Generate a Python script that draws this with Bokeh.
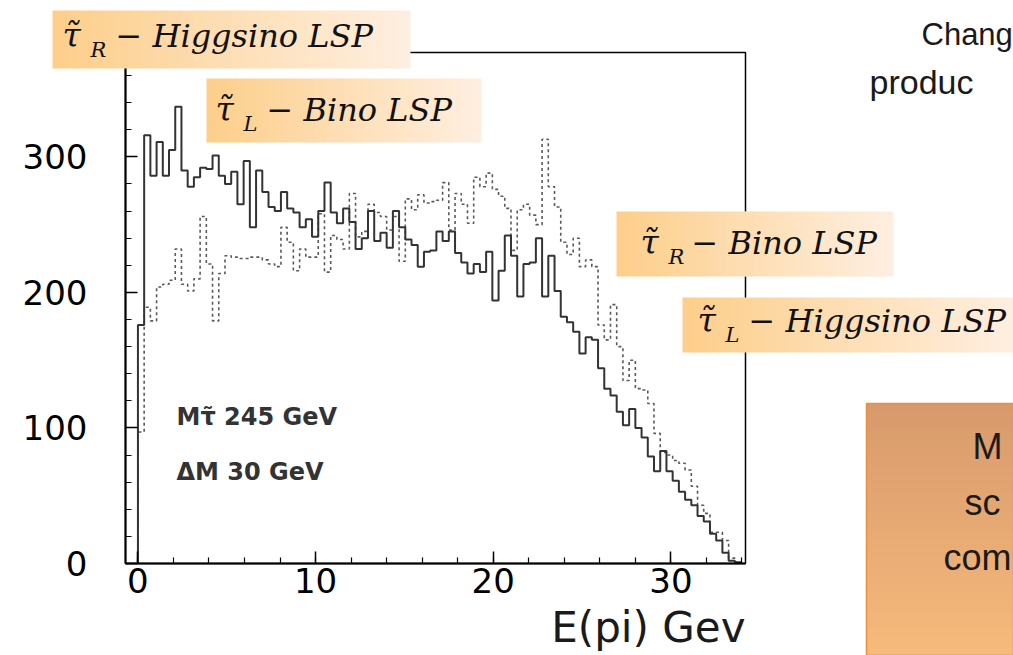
from bokeh.plotting import figure
from bokeh.models import Label, BoxAnnotation, FixedTicker, Range1d
from bokeh.embed import file_html
from bokeh.resources import INLINE

# ---------------- data ----------------
BIN_WIDTH = 0.35  # GeV per histogram bin

# solid histogram (counts per bin, starting at E = 0)
solid_counts = [176, 316, 286, 311, 286, 305, 337, 290, 278, 285,
                292, 291, 301, 286, 280, 289, 265, 297, 248, 290,
                274, 263, 260, 274, 262, 259, 248, 254, 241, 260,
                281, 259, 251, 262, 252, 232, 240, 260, 238, 244,
                233, 260, 248, 239, 235, 219, 230, 231, 245, 238,
                245, 229, 222, 214, 221, 215, 230, 194, 216, 242,
                227, 197, 221, 222, 240, 197, 227, 201, 182, 178,
                171, 155, 167, 165, 144, 129, 124, 112, 102, 114,
                100, 93, 79, 68, 83, 68, 61, 53, 47, 43,
                35, 31, 22, 17, 8, 2, 1]

# dotted histogram
dotted_counts = [97, 189, 179, 204, 206, 209, 232, 206, 201, 210,
                 256, 221, 179, 214, 227, 226, 225, 225, 226, 226,
                 224, 221, 219, 248, 237, 216, 232, 226, 226, 258,
                 215, 242, 239, 232, 273, 241, 245, 265, 259, 256,
                 246, 256, 223, 269, 261, 272, 266, 267, 268, 281,
                 246, 273, 265, 251, 285, 278, 288, 276, 271, 262,
                 231, 261, 265, 257, 250, 313, 278, 263, 237, 228,
                 240, 219, 224, 219, 176, 165, 191, 160, 135, 150,
                 129, 128, 118, 96, 82, 80, 76, 74, 69, 57,
                 43, 37, 23, 23, 17, 4, 1]

x_major_ticks = [0, 10, 20, 30]
x_minor_ticks = list(range(0, 35, 2))
y_major_ticks = [0, 100, 200, 300]
y_minor_ticks = list(range(0, 380, 20))

x_axis_title = "E(pi) Gev"
info_lines = ["M\u03c4\u0303 245 GeV", "\u0394M 30 GeV"]

# ---------------- layout ----------------
W, H = 1013, 655
FL, FR, FT, FB = 125, 745, 52, 563   # histogram frame edges in canvas px
X0, X1 = -0.7, 34.2                  # histogram frame data limits
Y0, Y1 = 0, 377

ux = (X1 - X0) / (FR - FL)   # data units per px
uy = (Y1 - Y0) / (FB - FT)


def dx(px):
    return X0 + (px - FL) * ux


def dy(py):
    return Y0 + (FB - py) * uy


p = figure(width=W, height=H, output_backend="svg", toolbar_location=None,
           x_range=Range1d(dx(0), dx(W)), y_range=Range1d(dy(H), dy(0)),
           min_border=0)
p.min_border_left = 0
p.min_border_right = 0
p.min_border_top = 0
p.min_border_bottom = 0
p.background_fill_color = "white"
p.border_fill_color = "white"
p.outline_line_color = None
p.xgrid.visible = False
p.ygrid.visible = False


def hist_path(counts):
    edges = [i * BIN_WIDTH for i in range(len(counts) + 1)]
    xs, ys = [edges[0]], [0]
    for i, v in enumerate(counts):
        xs += [edges[i], edges[i + 1]]
        ys += [v, v]
    xs.append(edges[-1])
    ys.append(0)
    return xs, ys


dxs, dys = hist_path(dotted_counts)
p.line(dxs, dys, line_color="#5a5a5a", line_width=1.6, line_dash="3 3")
sxs, sys_ = hist_path(solid_counts)
p.line(sxs, sys_, line_color="#333333", line_width=2)

# axes drawn at fixed positions inside the full-canvas frame
xa, ya = p.xaxis[0], p.yaxis[0]
xa.fixed_location = Y0
ya.fixed_location = X0
xa.bounds = (X0, X1)
ya.bounds = (Y0, Y1)
for ax in (xa, ya):
    ax.axis_line_color = "black"
    ax.axis_line_width = 2
    ax.major_tick_line_color = "black"
    ax.minor_tick_line_color = "black"
    ax.major_tick_line_width = 1.5
    ax.minor_tick_line_width = 1.2
    ax.major_tick_in = 12
    ax.major_tick_out = 0
    ax.minor_tick_in = 6
    ax.minor_tick_out = 0
    ax.major_label_text_font = "DejaVu Sans"
    ax.major_label_text_font_size = "34px"
    ax.major_label_text_color = "black"

xa.ticker = FixedTicker(ticks=x_major_ticks, minor_ticks=x_minor_ticks)
ya.ticker = FixedTicker(ticks=y_major_ticks, minor_ticks=y_minor_ticks)
xa.major_label_standoff = 4
ya.major_label_standoff = 38

# frame outline (top / right lines)
p.add_layout(BoxAnnotation(left=X0, right=X1, bottom=Y0, top=Y1,
                           fill_alpha=0, line_color="black", line_alpha=1,
                           line_width=1.5))


def lerp_color(c0, c1, t):
    a = [int(c0[i:i + 2], 16) for i in (1, 3, 5)]
    b = [int(c1[i:i + 2], 16) for i in (1, 3, 5)]
    return "#%02x%02x%02x" % tuple(round(a[k] + (b[k] - a[k]) * t) for k in range(3))


def grad_box(l, r, t, b, c0, c1, n=28, vertical=False, border=None):
    for k in range(n):
        c = lerp_color(c0, c1, k / (n - 1))
        if vertical:
            y_top = t + (b - t) * k / n
            y_bot = min(t + (b - t) * (k + 1) / n + 1, b)
            box = BoxAnnotation(left=dx(l), right=dx(r), top=dy(y_top), bottom=dy(y_bot),
                                fill_color=c, fill_alpha=1, line_alpha=0)
        else:
            x_l = l + (r - l) * k / n
            x_r = min(l + (r - l) * (k + 1) / n + 1, r)
            box = BoxAnnotation(left=dx(x_l), right=dx(x_r), top=dy(t), bottom=dy(b),
                                fill_color=c, fill_alpha=1, line_alpha=0)
        p.add_layout(box)
    if border:
        p.add_layout(BoxAnnotation(left=dx(l), right=dx(r), top=dy(t), bottom=dy(b),
                                   fill_alpha=0, line_color=border, line_alpha=1,
                                   line_width=1.5))


BASELINE_FIX = 0.39   # measured offset of rendered glyph baseline (in em)


def label(x, y, text, font="DejaVu Sans", size=30, style="normal", color="black", align="left"):
    p.add_layout(Label(x=dx(x), y=dy(y - BASELINE_FIX * size), text=text, text_font=font,
                       text_font_size=f"{size}px", text_font_style=style,
                       text_color=color, text_align=align, text_baseline="alphabetic"))


def species_box(l, r, t, b, base, tau_x, sub, sub_x, rest, rest_x):
    grad_box(l, r, t, b, "#fdcf8c", "#feeedf")
    label(tau_x, base, "\u03c4\u0303", font="DejaVu Serif", size=33, style="italic", color="#111111")
    label(sub_x, base + 10, sub, font="DejaVu Serif", size=21, style="italic", color="#111111")
    label(rest_x, base, rest, font="DejaVu Serif", size=32, style="italic", color="#111111")


species_box(52, 410, 10, 68, 48, 62, "R", 90, "\u2212 Higgsino LSP", 115)
species_box(206, 481, 78, 142, 122, 215, "L", 243, "\u2212 Bino LSP", 266)
species_box(616, 893, 211, 276, 255, 640, "R", 668, "\u2212 Bino LSP", 691)
species_box(682, 1013, 297, 352, 333, 697, "L", 725, "\u2212 Higgsino LSP", 748)

# big orange box at right
grad_box(866, 1013, 403, 655, "#d89a6c", "#f6ba7c", vertical=True, border="#e8913c")
label(972, 460, "M", font="Liberation Sans", size=36, color="#1a1a1a")
label(964, 516, "sc", font="Liberation Sans", size=36, color="#1a1a1a")
label(943, 571, "com", font="Liberation Sans", size=36, color="#1a1a1a")

# text at top right
label(921, 46, "Chang", font="Liberation Sans", size=31, color="#1a1a1a")
label(869, 95, "produc", font="Liberation Sans", size=34, color="#1a1a1a")

# info text inside the frame
label(176, 426, info_lines[0], font="DejaVu Sans", size=24, style="bold", color="#333333")
label(176, 481, info_lines[1], font="DejaVu Sans", size=24, style="bold", color="#333333")

# x axis title, right aligned at the frame end
label(745, 643, x_axis_title, font="DejaVu Sans", size=42, color="#1a1a1a", align="right")

open("out.html", "w").write(file_html(p, INLINE))
